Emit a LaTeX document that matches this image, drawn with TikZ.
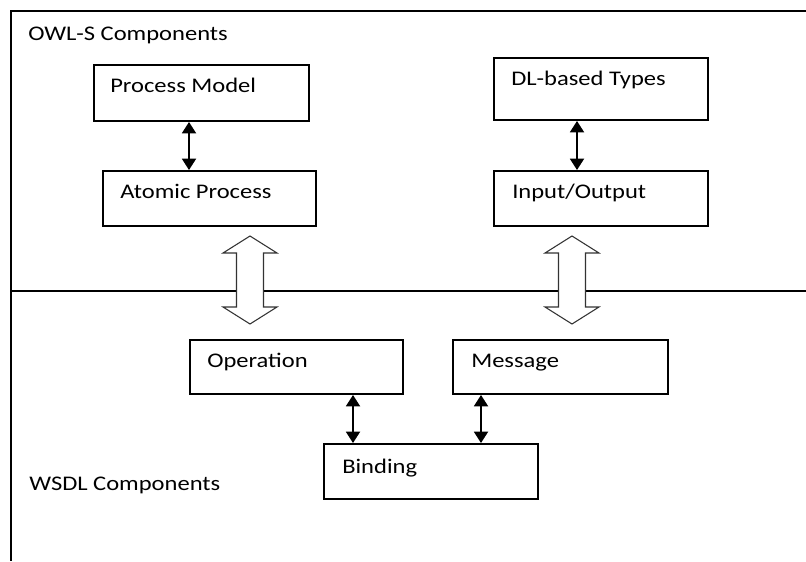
\documentclass[tikz,border=0pt]{standalone}
\usepackage{fontspec}
\setmainfont{Carlito}[FakeStretch=1.18]
\usepackage{tikz}
\usetikzlibrary{arrows.meta,positioning,calc}

\begin{document}
\begin{tikzpicture}[
    x=0.75pt, y=-0.75pt,
    compbox/.style={draw, line width=1.5pt, anchor=north west, inner sep=0pt},
    boxtext/.style={anchor=base west, inner sep=0pt, font=\fontsize{15.6}{18}\selectfont},
    sectlabel/.style={anchor=base west, inner sep=0pt, font=\fontsize{15.6}{18}\selectfont},
    linkarrow/.style={{Triangle[length=8.5pt,width=10.5pt]}-{Triangle[length=8.5pt,width=10.5pt]}, line width=1.4pt},
    hollowarrow/.style={draw=black!80, fill=white, line width=0.8pt, line join=miter},
    frameline/.style={line width=1.5pt},
    splitline/.style={line width=1.1pt}
]
\useasboundingbox (0,0) rectangle (806,561);

% Frame and the split between the two halves
\draw[frameline] (806,11) -- (11,11) -- (11,561);
\draw[splitline] (11,291) -- (806,291);

% Section labels
\node[sectlabel] (owlslbl) at (28,40) {OWL-S Components};
\node[sectlabel] (wsdllbl) at (29,490) {WSDL Components};

% OWL-S side
\node[compbox, minimum width=215*0.75pt, minimum height=56*0.75pt] (pm) at (93,64) {};
\node[compbox, minimum width=213*0.75pt, minimum height=55*0.75pt] (ap) at (102,170) {};
\node[compbox, minimum width=214*0.75pt, minimum height=62*0.75pt] (dl) at (493,57) {};
\node[compbox, minimum width=214*0.75pt, minimum height=55*0.75pt] (io) at (493,170) {};

% WSDL side
\node[compbox, minimum width=213*0.75pt, minimum height=54*0.75pt] (op) at (189,339) {};
\node[compbox, minimum width=215*0.75pt, minimum height=54*0.75pt] (msg) at (452,339) {};
\node[compbox, minimum width=214*0.75pt, minimum height=55*0.75pt] (bind) at (323,443) {};

% Box texts
\node[boxtext] (pmtxt) at ($(pm.north west)+(17,28)$) {Process Model};
\node[boxtext] (aptxt) at ($(ap.north west)+(18,28)$) {Atomic Process};
\node[boxtext] (dltxt) at ($(dl.north west)+(18,28)$) {DL-based Types};
\node[boxtext] (iotxt) at ($(io.north west)+(19,28)$) {Input/Output};
\node[boxtext] (optxt) at ($(op.north west)+(18,28)$) {Operation};
\node[boxtext] (msgtxt) at ($(msg.north west)+(19,28)$) {Message};
\node[boxtext] (bindtxt) at ($(bind.north west)+(19,30)$) {Binding};

% Links inside each half
\draw[linkarrow] ($(pm.south west)+(96,0)$) -- ($(ap.north west)+(87,0)$);
\draw[linkarrow] ($(dl.south west)+(84,0)$) -- ($(io.north west)+(84,0)$);
\draw[linkarrow] ($(op.south west)+(164,0)$) -- ($(bind.north west)+(30,0)$);
\draw[linkarrow] ($(msg.south west)+(29,0)$) -- ($(bind.north west)+(158,0)$);

% Hollow arrows across the split
\coordinate (aplink) at (250,280);
\coordinate (iolink) at (572,280);
\foreach \c in {aplink, iolink}
    \draw[hollowarrow] (\c) +(0,-44) -- +(27,-27) -- +(13.5,-27) -- +(13.5,27)
        -- +(27,27) -- +(0,44) -- +(-27,27) -- +(-13.5,27) -- +(-13.5,-27)
        -- +(-27,-27) -- cycle;

\end{tikzpicture}
\end{document}
